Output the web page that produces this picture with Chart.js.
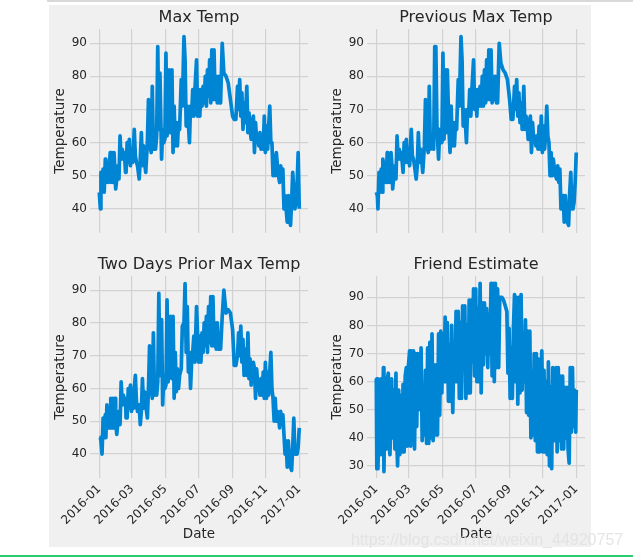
<!DOCTYPE html>
<html>
<head>
<meta charset="utf-8">
<title>Temperature subplots</title>
<script src="https://cdn.jsdelivr.net/npm/chart.js@4"></script>
<style>
  html, body { margin: 0; padding: 0; background: #fff; overflow: hidden; }
  body { width: 633px; height: 559px; position: relative; }
  canvas { position: absolute; }
  #figure { position: absolute; left: 49px; top: 5px; width: 542px; height: 542px; background: #f0f0f0; }
  #topline { position: absolute; left: 47px; right: 0; top: 0; height: 2px; background: #d9d9d9; }
  #bottomline { position: absolute; left: 0; right: 0; top: 555px; height: 2px; background: #2ecc71; }
  #watermark { position: absolute; left: 351px; top: 531px; font: 16px "Liberation Sans", sans-serif;
               color: rgba(225, 225, 225, 0.85); white-space: nowrap; }
</style>
</head>
<body>
<div id="topline"></div>
<div id="figure"></div>
<div id="bottomline"></div>
<canvas id="c1" width="271" height="228" style="left:49px;top:5px"></canvas>
<canvas id="c2" width="271" height="228" style="left:326px;top:5px"></canvas>
<canvas id="c3" width="271" height="295" style="left:49px;top:252px"></canvas>
<canvas id="c4" width="271" height="295" style="left:326px;top:252px"></canvas>
<div id="watermark">https://blog.csdn.net/weixin_44920757</div>
<script>
/* x positions are days since 2016-01-01 */
var dateTicks = [0, 60, 121, 182, 244, 305, 366];
var dateLabels = ["2016-01", "2016-03", "2016-05", "2016-07", "2016-09", "2016-11", "2017-01"];
var tempTicks = [40, 50, 60, 70, 80, 90];
var friendTicks = [30, 40, 50, 60, 70, 80, 90];

var tempDays = [
  0,2,3,5,7,9,11,12,14,16,
  18,20,21,23,25,27,29,30,32,34,
  36,38,40,42,44,46,48,49,51,53,
  55,57,59,61,63,64,66,68,70,73,
  75,77,79,81,83,85,88,90,92,95,
  97,99,101,103,105,107,109,111,114,116,
  118,120,122,124,126,128,130,133,135,137,
  139,141,143,145,147,150,152,155,157,159,
  161,163,165,167,169,171,173,175,178,180,
  182,184,186,188,190,192,194,196,198,200,
  202,204,206,208,210,212,214,216,218,220,
  222,225,228,232,236,240,244,247,250,253,
  255,257,259,261,263,265,267,270,272,274,
  276,278,280,282,284,286,288,290,292,294,
  296,298,300,302,304,306,308,310,312,314,
  316,318,320,322,324,326,328,330,332,334,
  336,338,340,342,344,346,348,350,352,354,
  356,358,360,362,364,366
];

var maxTemp = [
  45,40,51,45,52,45,55,48,54,48,
  52,57,48,57,48,57,50,46,49,53,
  49,62,55,58,55,57,51,51,60,54,
  61,53,58,54,60,64,56,54,53,49,
  55,63,53,59,54,51,60,73,60,57,
  77,58,60,58,62,89,64,81,55,64,
  60,61,87,62,70,82,63,82,57,71,
  59,66,59,66,64,79,71,92,85,65,
  71,66,60,71,68,76,68,76,85,68,
  76,68,76,71,77,72,80,71,82,74,
  85,72,88,73,88,73,80,72,80,72,
  72,90,81,80,78,73,68,67,67,77,
  70,79,68,75,64,72,66,77,63,69,
  64,61,66,68,57,66,61,62,59,63,
  58,62,58,68,57,65,58,65,71,60,
  60,50,56,50,57,53,50,48,53,50,
  52,40,44,40,36,44,38,35,42,51,
  46,40,42,47,57,40
];

var previousMaxTemp = [
  45,44,40,51,45,52,45,55,48,54,
  48,57,48,56,48,57,52,46,50,53,
  49,62,55,58,55,57,53,51,60,54,
  61,54,58,53,60,64,56,55,53,49,
  53,63,54,58,55,51,59,73,60,57,
  77,58,59,60,58,89,89,65,55,64,
  60,60,87,61,82,63,82,64,57,71,
  59,66,59,66,64,79,71,92,85,65,
  70,66,60,70,68,76,68,76,85,70,
  76,68,76,71,77,71,80,71,82,72,
  85,73,88,73,88,72,80,73,80,72,
  72,90,84,82,81,79,73,67,67,77,
  70,79,68,75,66,72,64,77,64,68,
  66,61,66,68,57,66,61,62,59,62,
  58,65,58,68,57,65,58,62,71,62,
  60,50,57,50,55,52,50,49,53,48,
  52,40,42,44,36,44,38,36,35,45,
  51,40,40,42,48,57
];

var twoDaysPriorMaxTemp = [
  45,45,44,40,51,45,52,45,55,48,
  54,48,57,48,57,48,57,50,46,50,
  53,49,62,55,58,55,57,51,51,60,
  54,61,53,58,54,60,64,56,53,55,
  49,53,63,54,59,55,51,60,73,60,
  57,77,58,60,58,62,89,64,81,55,
  64,60,61,87,62,70,82,63,82,57,
  71,59,66,60,64,66,79,80,92,71,
  85,65,71,60,68,71,76,68,85,76,
  68,76,68,77,71,80,73,82,71,85,
  74,88,73,88,73,80,72,80,72,72,
  72,82,90,83,84,83,78,67,67,70,
  77,70,79,68,75,64,72,64,77,63,
  69,61,66,68,66,57,66,61,62,58,
  63,58,65,57,68,57,65,58,65,71,
  60,57,50,57,50,53,52,48,53,50,
  52,46,40,44,36,44,38,36,35,42,
  51,40,41,40,42,48
];

var friendDays = [
  0,1,2,3,5,7,9,11,13,14,
  16,18,20,22,24,25,28,30,32,34,
  36,37,39,41,43,45,47,49,51,53,
  55,57,59,61,63,64,66,68,70,72,
  74,76,78,80,82,84,86,88,90,92,
  94,96,98,100,102,104,106,108,110,112,
  114,116,118,120,122,124,126,128,130,132,
  134,136,138,140,142,144,146,148,150,152,
  154,156,158,160,162,164,166,168,170,172,
  174,176,178,180,182,184,186,188,190,192,
  194,196,198,200,202,204,206,208,210,212,
  214,216,218,220,222,224,226,230,233,236,
  239,241,243,245,247,249,251,253,255,257,
  259,261,263,265,267,269,271,273,275,277,
  279,281,283,285,287,289,291,293,295,297,
  299,301,303,305,307,309,311,313,315,317,
  319,321,323,325,327,329,331,333,335,337,
  339,341,343,345,347,349,351,353,355,357,
  359,361,363,365,366
];

var friendEstimate = [
  61,29,61,29,49,34,61,34,65,28,
  61,36,61,63,36,34,61,40,57,36,
  63,42,30,57,34,55,35,59,35,62,
  65,37,66,71,37,71,45,71,36,70,
  44,70,50,57,72,39,57,41,64,38,
  72,38,74,40,77,39,66,41,66,41,
  77,48,78,56,77,60,83,60,81,53,
  73,53,80,49,73,60,85,60,85,54,
  81,54,87,69,87,54,80,56,89,56,
  89,67,93,62,93,60,86,60,95,56,
  88,66,88,70,86,65,84,70,95,62,
  95,60,95,65,93,65,90,90,89,87,
  85,63,79,54,72,54,79,91,60,90,
  52,90,56,91,57,74,60,82,49,78,
  48,78,40,62,41,70,39,70,35,68,
  35,62,71,35,64,35,60,34,67,30,
  58,29,65,39,58,65,35,65,39,62,
  36,62,36,58,40,58,36,31,65,42,
  65,44,57,42,57
];

var fontFamily = "'DejaVu Sans', sans-serif";
var textColor = "#262626";
var lineColor = "#0085d5";
var gridColor = "#d2d2d2";

function makeChart(id, title, days, values, yTicks, yMin, yMax, showDates) {
    var points = days.map(function (d, i) { return {x: d, y: values[i]}; });
    return new Chart(document.getElementById(id), {
        type: "line",
        data: {datasets: [{data: points, borderColor: lineColor, borderWidth: 3.7,
                           pointRadius: 0, tension: 0, borderJoinStyle: "round"}]},
        options: {
            responsive: false,
            animation: false,
            layout: {padding: {left: 0, right: 12, top: 0, bottom: 0}},
            plugins: {
                legend: {display: false},
                tooltip: {enabled: false},
                title: {
                    display: true, text: title, color: textColor, fullSize: false,
                    font: {family: fontFamily, size: 16, weight: "normal"},
                    padding: {top: 3.2, bottom: 1.6}
                }
            },
            scales: {
                x: {
                    type: "linear", min: -17, max: 382,
                    grid: {color: gridColor, lineWidth: 1.2, drawTicks: false},
                    border: {display: false},
                    title: {display: showDates, text: "Date", color: textColor,
                            font: {family: fontFamily, size: 13.5}, padding: {top: 0, bottom: 4}},
                    ticks: {
                        display: showDates, color: textColor, padding: 4,
                        autoSkip: false, minRotation: 45, maxRotation: 45,
                        font: {family: fontFamily, size: 12},
                        callback: function (v) { return dateLabels[dateTicks.indexOf(v)]; }
                    },
                    afterBuildTicks: function (axis) {
                        axis.ticks = dateTicks.map(function (v) { return {value: v}; });
                    },
                    afterFit: function (axis) {
                        axis.height = showDates ? 69 : 0;
                        axis.paddingLeft = 0;
                        axis.paddingRight = 0;
                    }
                },
                y: {
                    min: yMin, max: yMax,
                    grid: {color: gridColor, lineWidth: 1.2, drawTicks: false},
                    border: {display: false},
                    title: {display: true, text: "Temperature", color: textColor,
                            font: {family: fontFamily, size: 13.5}, padding: 3},
                    ticks: {color: textColor, padding: 3, font: {family: fontFamily, size: 12}},
                    afterBuildTicks: function (axis) {
                        axis.ticks = yTicks.map(function (v) { return {value: v}; });
                    },
                    afterFit: function (axis) {
                        axis.width = 41;
                        axis.paddingTop = 0;
                        axis.paddingBottom = 0;
                    }
                }
            }
        }
    });
}

makeChart("c1", "Max Temp", tempDays, maxTemp, tempTicks, 32.7, 94.3, false);
makeChart("c2", "Previous Max Temp", tempDays, previousMaxTemp, tempTicks, 32.7, 94.3, false);
makeChart("c3", "Two Days Prior Max Temp", tempDays, twoDaysPriorMaxTemp, tempTicks, 32.7, 94.3, true);
makeChart("c4", "Friend Estimate", friendDays, friendEstimate, friendTicks, 25.7, 97.6, true);
</script>
</body>
</html>
